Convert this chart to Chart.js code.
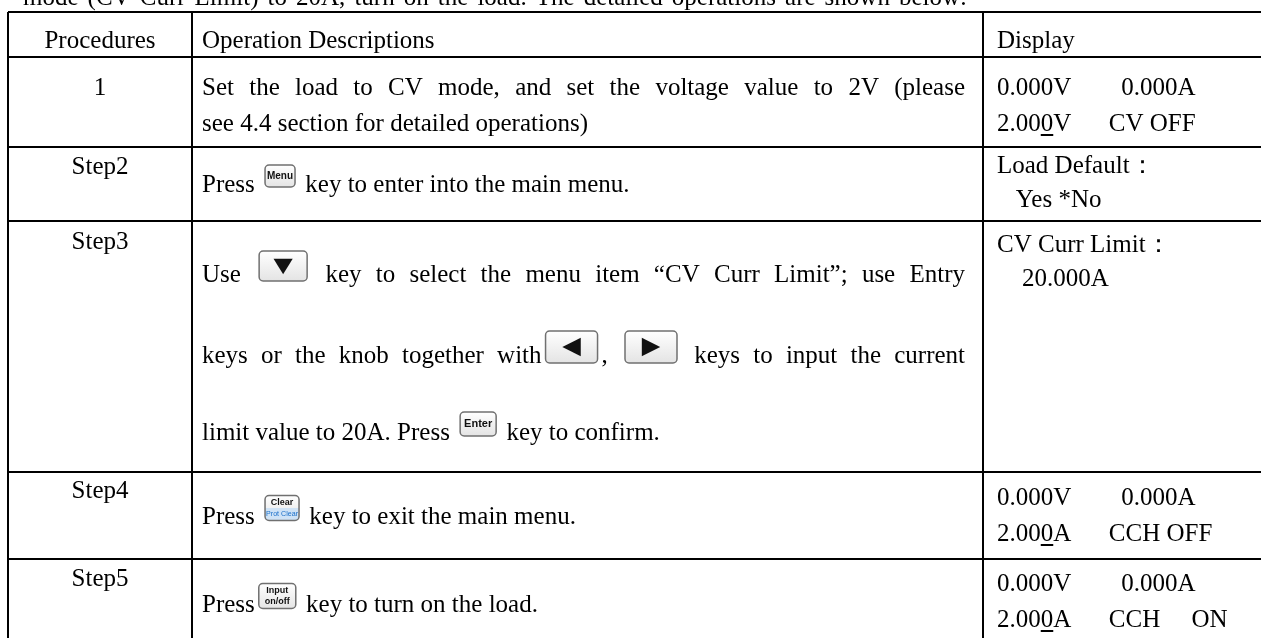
<!DOCTYPE html>
<html>
<head>
<meta charset="utf-8">
<script src="https://cdn.jsdelivr.net/npm/chart.js@4.4.0/dist/chart.umd.min.js"></script>
<style>
  html, body { margin: 0; padding: 0; background: #fff; }
  #wrap { width: 1261px; height: 638px; }
</style>
</head>
<body>
<div id="wrap"><canvas id="procTable"></canvas></div>
<script>
// table content
const introText = 'mode (CV Curr Limit) to 20A, turn on the load. The detailed operations are shown below:';
const headers = ['Procedures', 'Operation Descriptions', 'Display'];
const procedures = ['1', 'Step2', 'Step3', 'Step4', 'Step5'];
const descriptions = [
  ['Set the load to CV mode, and set the voltage value to 2V (please', 'see 4.4 section for detailed operations)'],
  ['Press {menu} key to enter into the main menu.'],
  ['Use {down} key to select the menu item \u201cCV Curr Limit\u201d; use Entry',
   'keys or the knob together with{left}, {right} keys to input the current',
   'limit value to 20A. Press {enter} key to confirm.'],
  ['Press {clear} key to exit the main menu.'],
  ['Press{input} key to turn on the load.']
];
// '_' underlines the next character (cursor digit)
const displays = [
  ['0.000V        0.000A', '2.00_0V      CV OFF'],
  ['Load Default\uff1a', '   Yes *No'],
  ['CV Curr Limit\uff1a', '    20.000A'],
  ['0.000V        0.000A', '2.00_0A      CCH OFF'],
  ['0.000V        0.000A', '2.00_0A      CCH     ON']
];

// grid edges in table units
const colEdges = [8, 192, 983, 1300];
const rowEdges = [12, 57, 147, 221, 472, 559, 680];

const layout = {
  font: '25px "Liberation Serif", "Times New Roman", serif',
  introY: 5,
  introX: 23,
  introRight: 967,
  headerY: 48,
  labelY: [95, 174, 249, 498, 586],
  descY: [[95, 131], [192], [282, 363, 440], [524], [612]],
  dispY: [[95, 131], [173, 207], [252, 286], [505, 541], [591, 627]],
  padLeft: 10,
  padRight: 18,
  dispPad: 14
};

const icons = {
  menu: { w: 30, h: 22 },
  down: { w: 48, h: 30 },
  left: { w: 52, h: 32 },
  right: { w: 52, h: 32 },
  enter: { w: 36, h: 24 },
  clear: { w: 34, h: 25 },
  input: { w: 37, h: 25 }
};

function roundRect(ctx, x, y, w, h, r) {
  ctx.beginPath();
  ctx.moveTo(x + r, y);
  ctx.arcTo(x + w, y, x + w, y + h, r);
  ctx.arcTo(x + w, y + h, x, y + h, r);
  ctx.arcTo(x, y + h, x, y, r);
  ctx.arcTo(x, y, x + w, y, r);
  ctx.closePath();
}

function drawIcon(ctx, name, x, cy) {
  const { w, h } = icons[name];
  const y = cy - h / 2;
  ctx.save();
  const g = ctx.createLinearGradient(0, y, 0, y + h);
  g.addColorStop(0, '#ffffff');
  g.addColorStop(1, '#e4e4e4');
  roundRect(ctx, x, y, w, h, 4);
  ctx.fillStyle = g;
  ctx.fill();
  if (name === 'clear') {
    ctx.save();
    ctx.clip();
    ctx.fillStyle = '#cfe3f6';
    ctx.fillRect(x, y + h / 2, w, h / 2);
    ctx.restore();
  }
  ctx.lineWidth = 1.5;
  ctx.strokeStyle = '#707070';
  roundRect(ctx, x, y, w, h, 4);
  ctx.stroke();
  ctx.fillStyle = '#111';
  ctx.textAlign = 'center';
  ctx.textBaseline = 'middle';
  const mx = x + w / 2;
  if (name === 'menu') {
    ctx.font = 'bold 10px "Liberation Sans", Arial, sans-serif';
    ctx.fillText('Menu', mx, cy);
  } else if (name === 'enter') {
    ctx.font = 'bold 11px "Liberation Sans", Arial, sans-serif';
    ctx.fillText('Enter', mx, cy);
  } else if (name === 'clear') {
    ctx.font = 'bold 9px "Liberation Sans", Arial, sans-serif';
    ctx.fillText('Clear', mx, y + h * 0.27);
    ctx.fillStyle = '#1a6fc9';
    ctx.font = '8px "Liberation Sans", Arial, sans-serif';
    ctx.fillText('Prot Clear', mx, y + h * 0.74, w - 2);
  } else if (name === 'input') {
    ctx.font = 'bold 9px "Liberation Sans", Arial, sans-serif';
    ctx.fillText('Input', mx, y + h * 0.3);
    ctx.fillText('on/off', mx, y + h * 0.72);
  } else {
    // arrow keys
    const s = h * 0.32;
    ctx.beginPath();
    if (name === 'down') {
      ctx.moveTo(mx - s, cy - s * 0.75);
      ctx.lineTo(mx + s, cy - s * 0.75);
      ctx.lineTo(mx, cy + s * 0.85);
    } else if (name === 'left') {
      ctx.moveTo(mx + s * 0.9, cy - s * 0.9);
      ctx.lineTo(mx + s * 0.9, cy + s * 0.9);
      ctx.lineTo(mx - s * 0.9, cy);
    } else {
      ctx.moveTo(mx - s * 0.9, cy - s * 0.9);
      ctx.lineTo(mx - s * 0.9, cy + s * 0.9);
      ctx.lineTo(mx + s * 0.9, cy);
    }
    ctx.closePath();
    ctx.fill();
  }
  ctx.restore();
}

const iconGap = 4;

// split a line into text pieces and icon tokens
function parseLine(line) {
  return line.split(/(\{\w+\})/).filter(p => p !== '').map(p => {
    const m = p.match(/^\{(\w+)\}$/);
    return m ? { icon: m[1] } : { text: p };
  });
}

function drawRichLine(ctx, line, x, baseline, maxRight, justify) {
  const parts = parseLine(line);
  let natural = 0;
  let spaces = 0;
  parts.forEach(p => {
    if (p.icon) natural += icons[p.icon].w + iconGap * 2;
    else {
      natural += ctx.measureText(p.text).width;
      spaces += (p.text.match(/ /g) || []).length;
    }
  });
  const extra = justify && spaces ? (maxRight - x - natural) / spaces : 0;
  let cx = x;
  parts.forEach(p => {
    if (p.icon) {
      cx += iconGap;
      drawIcon(ctx, p.icon, cx, baseline - 16);
      cx += icons[p.icon].w + iconGap;
    } else {
      const words = p.text.split(' ');
      words.forEach((wd, i) => {
        if (wd) ctx.fillText(wd, cx, baseline);
        cx += ctx.measureText(wd).width;
        if (i < words.length - 1) cx += ctx.measureText(' ').width + extra;
      });
    }
  });
}

function drawDisplayLine(ctx, line, x, baseline) {
  const k = line.indexOf('_');
  if (k < 0) { ctx.fillText(line, x, baseline); return; }
  const before = line.slice(0, k);
  const ch = line[k + 1];
  const after = line.slice(k + 2);
  ctx.fillText(before, x, baseline);
  let cx = x + ctx.measureText(before).width;
  ctx.fillText(ch, cx, baseline);
  const cw = ctx.measureText(ch).width;
  ctx.fillRect(cx, baseline + 3, cw, 2);
  cx += cw;
  ctx.fillText(after, cx, baseline);
}

const tablePlugin = {
  id: 'tableText',
  afterDraw(chart) {
    const { ctx } = chart;
    const xs = chart.scales.x;
    const ys = chart.scales.y;
    const px = v => xs.getPixelForValue(v);
    const py = v => ys.getPixelForValue(v);
    ctx.save();
    ctx.font = layout.font;
    ctx.fillStyle = '#000';
    ctx.textBaseline = 'alphabetic';
    ctx.textAlign = 'left';

    // tail of the paragraph above the table
    drawRichLine(ctx, introText, px(layout.introX), py(layout.introY), px(layout.introRight), true);

    // header row
    ctx.textAlign = 'center';
    ctx.fillText(headers[0], (px(colEdges[0]) + px(colEdges[1])) / 2, py(layout.headerY));
    ctx.textAlign = 'left';
    ctx.fillText(headers[1], px(colEdges[1] + layout.padLeft), py(layout.headerY));
    ctx.fillText(headers[2], px(colEdges[2] + layout.dispPad), py(layout.headerY));

    procedures.forEach((label, i) => {
      ctx.textAlign = 'center';
      ctx.fillText(label, (px(colEdges[0]) + px(colEdges[1])) / 2, py(layout.labelY[i]));
      ctx.textAlign = 'left';
      const lines = descriptions[i];
      lines.forEach((ln, j) => {
        drawRichLine(ctx, ln, px(colEdges[1] + layout.padLeft), py(layout.descY[i][j]),
          px(colEdges[2] - layout.padRight), j < lines.length - 1);
      });
      displays[i].forEach((ln, j) => {
        drawDisplayLine(ctx, ln, px(colEdges[2] + layout.dispPad), py(layout.dispY[i][j]));
      });
    });
    ctx.restore();
  }
};

const hiddenAxis = {
  type: 'linear',
  ticks: { display: false },
  grid: { color: '#000', lineWidth: 2, drawTicks: false },
  border: { display: false }
};

// chart area = table area: left/top edges via padding, right/bottom run off the canvas
new Chart(document.getElementById('procTable'), {
  type: 'scatter',
  data: { datasets: [] },
  options: {
    responsive: true,
    maintainAspectRatio: false,
    animation: false,
    events: [],
    layout: { padding: { left: colEdges[0], top: rowEdges[0], right: 0, bottom: 0 } },
    plugins: { legend: { display: false }, tooltip: { enabled: false } },
    scales: {
      x: Object.assign({}, hiddenAxis, {
        min: colEdges[0], max: 1261,
        afterBuildTicks: s => { s.ticks = colEdges.map(v => ({ value: v })); }
      }),
      y: Object.assign({}, hiddenAxis, {
        min: rowEdges[0], max: 638, reverse: true,
        afterBuildTicks: s => { s.ticks = rowEdges.map(v => ({ value: v })); }
      })
    }
  },
  plugins: [tablePlugin]
});
</script>
</body>
</html>
